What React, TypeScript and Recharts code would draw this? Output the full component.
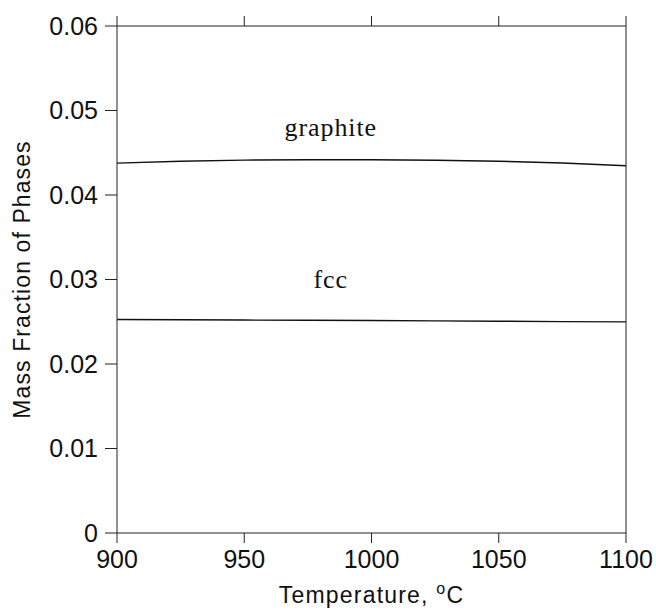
import React from 'react';
import { LineChart, Line, XAxis, YAxis, ReferenceDot } from 'recharts';

const temperatures = [900, 925, 950, 975, 1000, 1025, 1050, 1075, 1100];
const graphite = [0.04377, 0.044, 0.04413, 0.04418, 0.04418, 0.04412, 0.044, 0.04378, 0.04347];
const fcc = [0.02526, 0.02523, 0.0252, 0.02517, 0.02514, 0.0251, 0.02506, 0.02502, 0.02498];

const xTicks = [900, 950, 1000, 1050, 1100];
const yTicks = [0, 0.01, 0.02, 0.03, 0.04, 0.05, 0.06];

const phaseLabels = [
  { name: 'graphite', x: 984, y: 0.04704 },
  { name: 'fcc', x: 984, y: 0.029 },
];

const data = temperatures.map((t, i) => ({ t, graphite: graphite[i], fcc: fcc[i] }));

const SANS = '"Liberation Sans", Arial, Helvetica, sans-serif';
const SERIF = '"Liberation Serif", "Times New Roman", serif';
const AXIS = '#222';
const tickStyle = { fontSize: 25, fill: '#111', fontFamily: SANS };

const PhaseLabel = (name: string) => (props: any) => {
  const { viewBox } = props;
  const cx = viewBox.x + viewBox.width / 2;
  const cy = viewBox.y + viewBox.height / 2;
  return (
    <text x={cx} y={cy} textAnchor="middle" fontFamily={SERIF} fontSize={26} letterSpacing={0.9} fill="#111">
      {name}
    </text>
  );
};

const XTitle = (props: any) => {
  const { viewBox } = props;
  return (
    <text x={viewBox.x + viewBox.width / 2} y={viewBox.y + 70} textAnchor="middle" fontFamily={SANS} fontSize={23} letterSpacing={1.2} fill="#111">
      Temperature,{' '}
      <tspan fontSize={16} dy={-9}>o</tspan>
      <tspan dy={9}>C</tspan>
    </text>
  );
};

const YTitle = (props: any) => {
  const { viewBox } = props;
  const x = 22;
  const y = viewBox.y + viewBox.height / 2;
  return (
    <text x={x} y={y} transform={`rotate(-90, ${x}, ${y})`} textAnchor="middle" dominantBaseline="central" fontFamily={SANS} fontSize={23} letterSpacing={1.1} fill="#111">
      Mass Fraction of Phases
    </text>
  );
};

export default function App() {
  return (
    <div style={{ position: 'fixed', left: 0, top: 0, width: 656, height: 612, background: '#fff' }}>
      <LineChart width={656} height={612} data={data} margin={{ top: 0, right: 0, bottom: 29, left: 0 }}>
        <XAxis
          xAxisId="b"
          dataKey="t"
          type="number"
          domain={[900, 1100]}
          ticks={xTicks}
          tickSize={10}
          tickMargin={7}
          height={50}
          stroke={AXIS}
          tick={tickStyle}
          label={<XTitle />}
        />
        <XAxis
          xAxisId="top"
          orientation="top"
          dataKey="t"
          type="number"
          domain={[900, 1100]}
          ticks={xTicks}
          tickSize={10}
          height={26}
          stroke={AXIS}
          tickFormatter={() => ''}
        />
        <YAxis
          yAxisId="l"
          type="number"
          domain={[0, 0.06]}
          ticks={yTicks}
          tickSize={12}
          tickMargin={7}
          width={117}
          stroke={AXIS}
          tick={tickStyle}
          tickFormatter={(v: number) => (v === 0 ? '0' : v.toFixed(2))}
          label={<YTitle />}
        />
        <YAxis
          yAxisId="r"
          orientation="right"
          type="number"
          domain={[0, 0.06]}
          ticks={yTicks}
          tickSize={10}
          width={30}
          stroke={AXIS}
          tickFormatter={() => ''}
        />
        <Line xAxisId="b" yAxisId="l" dataKey="graphite" stroke="#111" strokeWidth={1.4} dot={false} isAnimationActive={false} />
        <Line xAxisId="b" yAxisId="l" dataKey="fcc" stroke="#111" strokeWidth={1.4} dot={false} isAnimationActive={false} />
        {phaseLabels.map((p) => (
          <ReferenceDot
            key={p.name}
            xAxisId="b"
            yAxisId="l"
            x={p.x}
            y={p.y}
            r={0}
            fill="none"
            stroke="none"
            label={PhaseLabel(p.name)}
          />
        ))}
      </LineChart>
    </div>
  );
}
